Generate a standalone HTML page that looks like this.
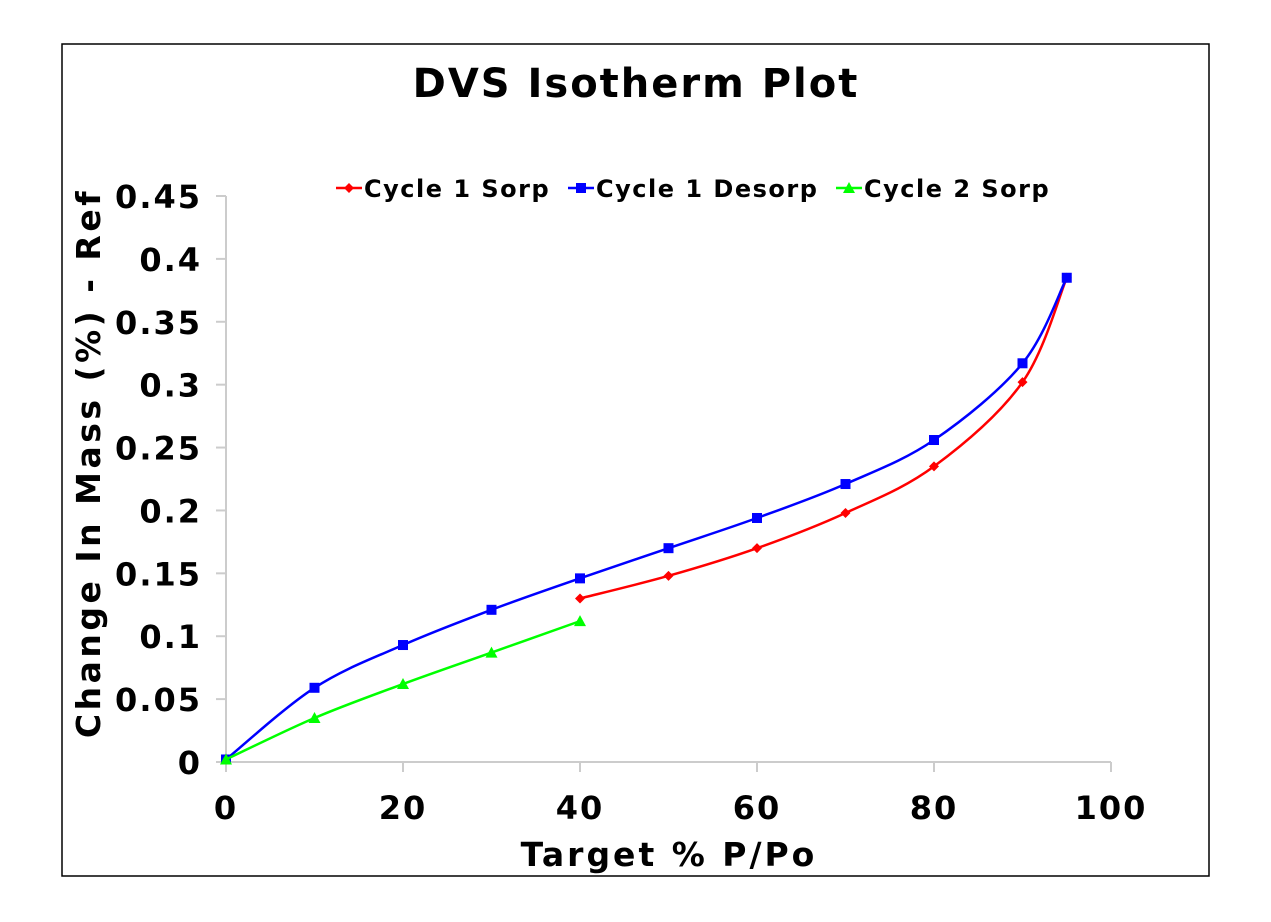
<!DOCTYPE html>
<html><head><meta charset="utf-8"><style>
body{margin:0;background:#fff}
svg text{font-family:"DejaVu Sans","Liberation Sans",sans-serif;font-weight:bold;fill:#000}
</style></head><body>
<svg id="chart" width="1271" height="917" xmlns="http://www.w3.org/2000/svg">
<rect x="62" y="44" width="1147" height="832" fill="#fff" stroke="#000" stroke-width="1.5"/>
<text x="636" y="97" font-size="40" letter-spacing="2" text-anchor="middle">DVS Isotherm Plot</text>
<text x="669" y="866" font-size="33" letter-spacing="3" text-anchor="middle">Target % P/Po</text>
<text transform="translate(100,463) rotate(-90)" font-size="33" letter-spacing="3.5" text-anchor="middle">Change In Mass (%) - Ref</text>
<g id="axes"></g>
<g id="series"></g>
<g id="legend"></g>
</svg>
<script>
const xTicks=[0,20,40,60,80,100];
const yTicks=[0,0.05,0.1,0.15,0.2,0.25,0.3,0.35,0.4,0.45];
const yTickLabels=["0","0.05","0.1","0.15","0.2","0.25","0.3","0.35","0.4","0.45"];
const sorpX=[40,50,60,70,80,90,95];
const sorpY=[0.130,0.148,0.170,0.198,0.235,0.302,0.385];
const desorpX=[0,10,20,30,40,50,60,70,80,90,95];
const desorpY=[0.002,0.059,0.093,0.121,0.146,0.170,0.194,0.221,0.256,0.317,0.385];
const sorp2X=[0,10,20,30,40];
const sorp2Y=[0.002,0.035,0.062,0.087,0.112];
const seriesNames=["Cycle 1 Sorp","Cycle 1 Desorp","Cycle 2 Sorp"];

const NS="http://www.w3.org/2000/svg";
const X0=226,X1=1111,Y0=762,Y1=196;
const sx=v=>X0+(v-0)/(100-0)*(X1-X0);
const sy=v=>Y0-(v-0)/(0.45-0)*(Y0-Y1);
function mk(tag,attrs,parent){const e=document.createElementNS(NS,tag);for(const k in attrs)e.setAttribute(k,attrs[k]);parent.appendChild(e);return e;}
const axes=document.getElementById('axes');
let l=mk('line',{x1:X0,y1:Y0,x2:X1,y2:Y0,stroke:'#ccc','stroke-width':2},axes);


l=mk('line',{x1:X0,y1:Y0,x2:X0,y2:Y1,stroke:'#ccc','stroke-width':2},axes);


xTicks.forEach(v=>{
  const t=mk('line',{x1:sx(v),y1:Y0,x2:sx(v),y2:Y0+10,stroke:'#ccc','stroke-width':2},axes);
  
  
  const tx=mk('text',{x:sx(v),y:Y0+57,'font-size':32,'letter-spacing':2,'text-anchor':'middle'},axes);
  tx.textContent=v;
  
  
});
yTicks.forEach((v,i)=>{
  const t=mk('line',{x1:X0-10,y1:sy(v),x2:X0,y2:sy(v),stroke:'#ccc','stroke-width':2},axes);
  
  
  const tx=mk('text',{x:X0-24,y:sy(v)+12,'font-size':32,'letter-spacing':2,'text-anchor':'end'},axes);
  tx.textContent=yTickLabels[i];
  
  
});
function smooth(pts){
  let d=`M${pts[0][0]},${pts[0][1]}`;
  for(let i=0;i<pts.length-1;i++){
    const p0=pts[i-1]||pts[i],p1=pts[i],p2=pts[i+1],p3=pts[i+2]||p2;
    const c1=[p1[0]+(p2[0]-p0[0])/6,p1[1]+(p2[1]-p0[1])/6];
    const c2=[p2[0]-(p3[0]-p1[0])/6,p2[1]-(p3[1]-p1[1])/6];
    d+=` C${c1[0]},${c1[1]} ${c2[0]},${c2[1]} ${p2[0]},${p2[1]}`;
  }
  return d;
}
function marker(type,x,y,color,g){
  if(type==='diamond') return mk('polygon',{points:`${x},${y-5} ${x+5},${y} ${x},${y+5} ${x-5},${y}`,fill:color},g);
  if(type==='square') return mk('rect',{x:x-5,y:y-5,width:10,height:10,fill:color},g);
  return mk('polygon',{points:`${x},${y-6} ${x+6},${y+5} ${x-6},${y+5}`,fill:color},g);
}
const sg=document.getElementById('series');
const defs=[[sorpX,sorpY,'#f00','diamond','cycle-1-sorp'],[desorpX,desorpY,'#00f','square','cycle-1-desorp'],[sorp2X,sorp2Y,'#0f0','triangle','cycle-2-sorp']];
defs.forEach(([xs,ys,c,m,n])=>{
  const g=mk('g',{},sg);
  
  
  const pts=xs.map((x,i)=>[sx(x),sy(ys[i])]);
  const p=mk('path',{d:smooth(pts),fill:'none',stroke:c,'stroke-width':2.5},g);
  
  
  pts.forEach(q=>{const mm=marker(m,q[0],q[1],c,g);
    
    });
});
const lg=document.getElementById('legend');
const lx=[336,568,836];
defs.forEach(([xs,ys,c,m,n],i)=>{
  const g=mk('g',{},lg);
  
  
  mk('line',{x1:lx[i],y1:188,x2:lx[i]+26,y2:188,stroke:c,'stroke-width':2.5},g);
  marker(m,lx[i]+13,188,c,g);
  const t=mk('text',{x:lx[i]+28,y:197,'font-size':24,'letter-spacing':1.5},g);
  t.textContent=seriesNames[i];
});
</script>
</body></html>
